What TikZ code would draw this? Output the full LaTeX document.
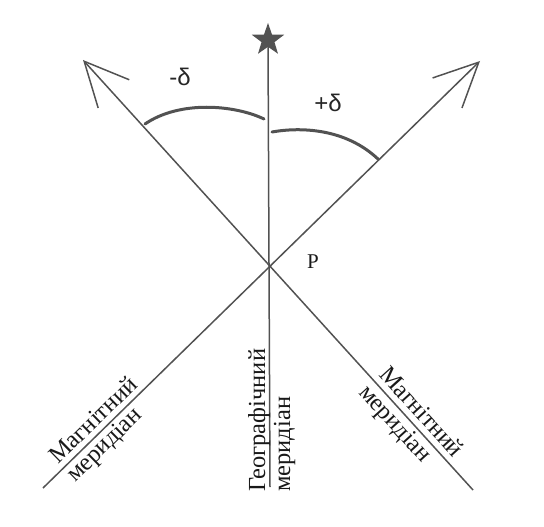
\documentclass[tikz,border=0pt]{standalone}
\usepackage{fontspec}
\setmainfont{Liberation Serif}
\setsansfont{Liberation Sans}
\usetikzlibrary{arrows.meta,shapes.geometric}

\begin{document}
\begin{tikzpicture}[
  x=1pt, y=-1pt,
  meridian/.style={draw=black!68, line width=1.5pt},
  magnetic/.style={meridian, -{Straight Barb[length=44pt,width=42pt]}},
  deviation/.style={draw=black!68, line width=3pt, line cap=round},
  caption/.style={font=\fontsize{24.5}{27}\selectfont, text=black!90,
    inner sep=0pt, anchor=base west},
  sign/.style={font=\sffamily\fontsize{24}{26}\selectfont, text=black!85}
]
\useasboundingbox (0,0) rectangle (544,527);

% ends of the three meridians
\coordinate (sw) at (43,488);
\coordinate (ne) at (480,61);
\coordinate (se) at (473,490);
\coordinate (nw) at (83,60);
\coordinate (south) at (270,487);

\node[star, star points=5, star point ratio=2.5, minimum size=34pt,
  inner sep=0pt, fill=black!68] (star) at (268,40) {};

\draw[magnetic] (sw) -- (ne);
\draw[magnetic] (se) -- (nw);
\draw[meridian] (star.center) -- (south);

\node[font=\fontsize{21}{24}\selectfont, text=black!90] (P) at (313,262) {P};

% declination arcs
\coordinate (minus-from) at (145,124);
\coordinate (minus-to) at (264,119);
\coordinate (plus-from) at (272,132);
\coordinate (plus-to) at (378,159);
\draw[deviation] (minus-from) .. controls (180,100) and (235,105) .. (minus-to);
\draw[deviation] (plus-from) .. controls (300,127) and (345,128) .. (plus-to);
\node[sign] (minus) at (180,77) {-δ};
\node[sign] (plus) at (328,103) {+δ};

% meridian names
\node[caption, rotate=44.3] (magL) at (58,465) {Магнітний};
\node[caption, rotate=44.3] (merL) at (75,483) {меридіан};
\node[caption, rotate=90] (geo) at (265,492) {Географічний};
\node[caption, rotate=90] (merC) at (290,492) {меридіан};
\node[caption, rotate=-47.8] (magR) at (378,375) {Магнітний};
\node[caption, rotate=-47.8] (merR) at (358,393) {меридіан};
\end{tikzpicture}
\end{document}
